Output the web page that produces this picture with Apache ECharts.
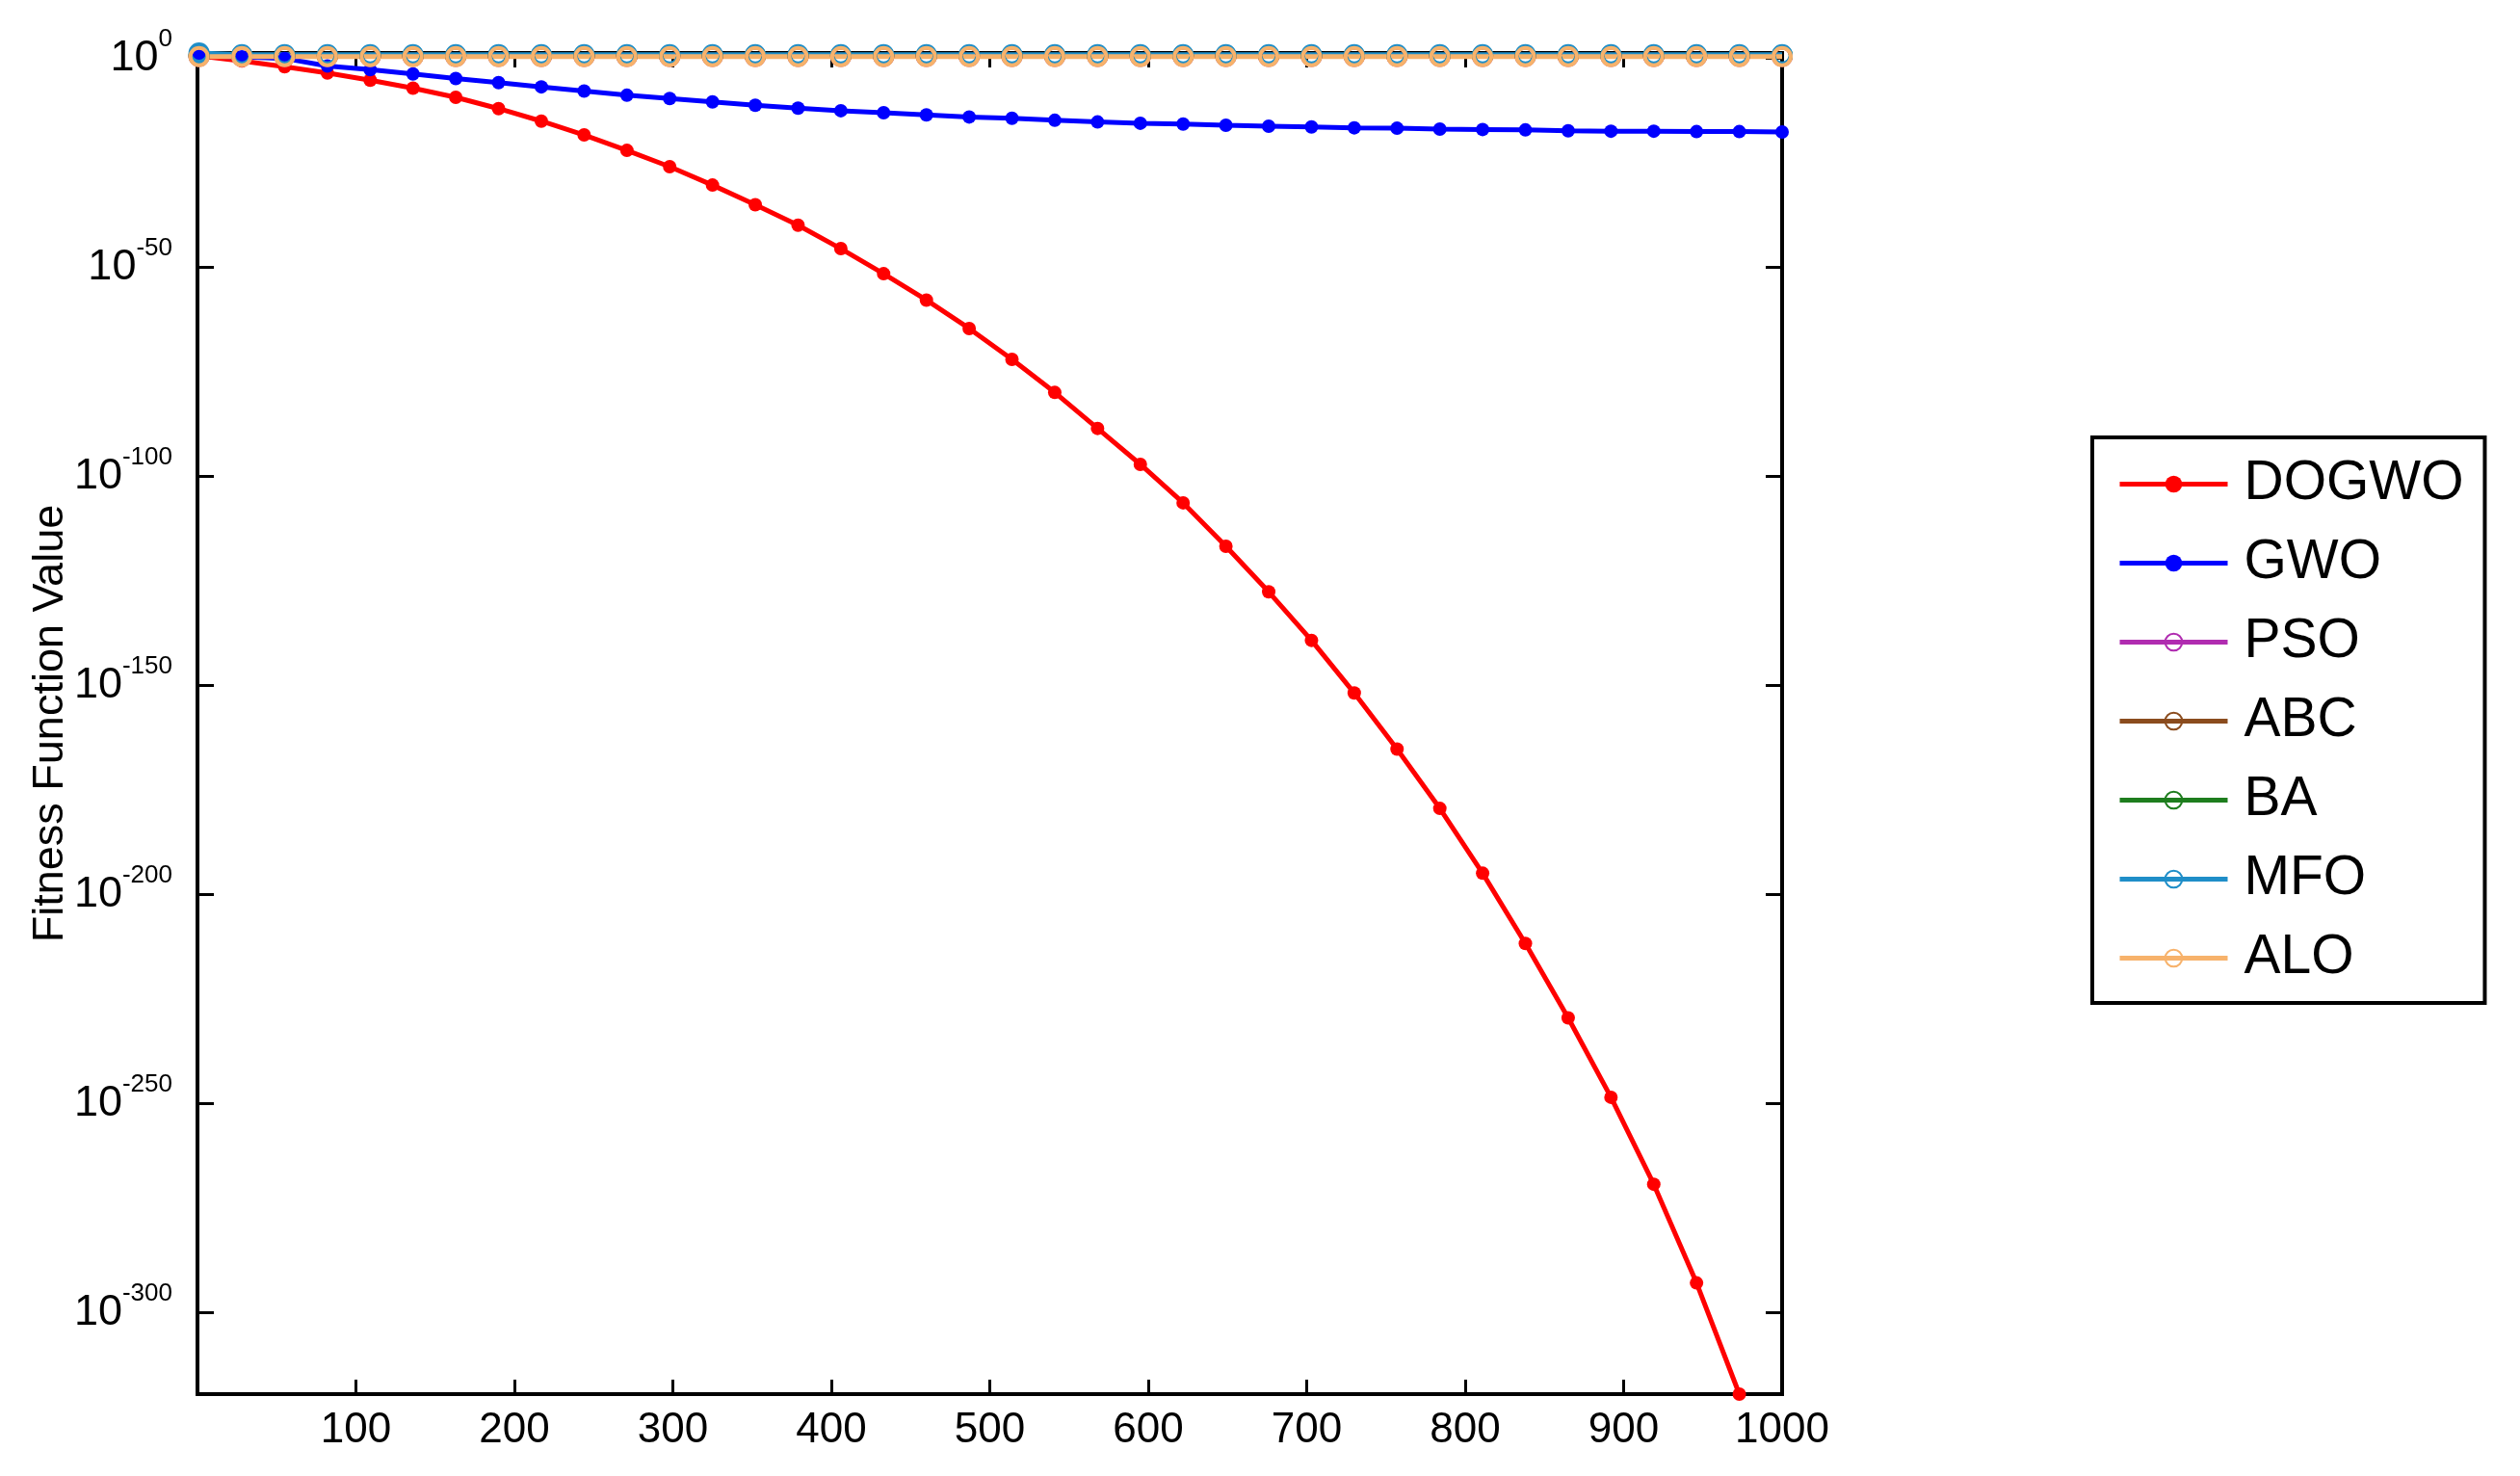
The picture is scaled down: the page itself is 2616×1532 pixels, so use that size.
<!DOCTYPE html>
<html>
<head>
<meta charset="utf-8">
<script src="https://cdn.jsdelivr.net/npm/echarts@6/dist/echarts.min.js"></script>
<style>
  html, body { margin: 0; padding: 0; background: #fff; }
  #main { width: 2616px; height: 1532px; }
</style>
</head>
<body>
<div id="main"></div>
<script>
// iteration of every plotted marker (one every 27 iterations)
const iterations = [1, 28, 55, 82, 109, 136, 163, 190, 217, 244, 271, 298, 325, 352, 379, 406, 433, 460, 487,
  514, 541, 568, 595, 622, 649, 676, 703, 730, 757, 784, 811, 838, 865, 892, 919, 946, 973, 1000]

// fitness values stored as exponents (value = 10^exp)
const dogwoExp = [0.6, -0.6, -2.0, -3.5, -5.2, -7.1, -9.3, -12.0, -15.0, -18.3, -22.0, -25.9, -30.3, -35.0, -39.9,
  -45.5, -51.5, -57.8, -64.6, -72.0, -79.9, -88.5, -97.1, -106.3, -116.7, -127.6, -139.2, -151.8, -165.2, -179.4,
  -194.9, -211.7, -229.5, -248.5, -269.3, -292.9, -319.5]
const gwoExp = [0.6, 0.4, 0.0, -1.8, -2.7, -3.7, -4.8, -5.8, -6.8, -7.8, -8.8, -9.6, -10.4, -11.2, -11.9, -12.5,
  -13.0, -13.5, -14.0, -14.3, -14.8, -15.2, -15.5, -15.7, -16.0, -16.2, -16.4, -16.6, -16.7, -16.9, -17.0, -17.1,
  -17.3, -17.4, -17.4, -17.5, -17.5, -17.6]
const psoExp = [0.5, 0.5, 0.5, 0.5, 0.5, 0.5, 0.5, 0.5, 0.5, 0.5, 0.5, 0.5, 0.5, 0.5, 0.5, 0.5, 0.5, 0.5, 0.5,
  0.5, 0.5, 0.5, 0.5, 0.5, 0.5, 0.5, 0.5, 0.5, 0.5, 0.5, 0.5, 0.5, 0.5, 0.5, 0.5, 0.5, 0.5, 0.5]
const abcExp = [0.6, 0.6, 0.6, 0.6, 0.6, 0.6, 0.6, 0.6, 0.6, 0.6, 0.6, 0.6, 0.6, 0.6, 0.6, 0.6, 0.6, 0.6, 0.6,
  0.6, 0.6, 0.6, 0.6, 0.6, 0.6, 0.6, 0.6, 0.6, 0.6, 0.6, 0.6, 0.6, 0.6, 0.6, 0.6, 0.6, 0.6, 0.6]
const baExp = [0.7, 0.7, 0.7, 0.7, 0.7, 0.7, 0.7, 0.7, 0.7, 0.7, 0.7, 0.7, 0.7, 0.7, 0.7, 0.7, 0.7, 0.7, 0.7,
  0.7, 0.7, 0.7, 0.7, 0.7, 0.7, 0.7, 0.7, 0.7, 0.7, 0.7, 0.7, 0.7, 0.7, 0.7, 0.7, 0.7, 0.7, 0.7]
const mfoExp = [1.3, 0.9, 0.9, 0.9, 0.9, 0.9, 0.9, 0.9, 0.9, 0.9, 0.9, 0.9, 0.9, 0.9, 0.9, 0.9, 0.9, 0.9, 0.9,
  0.9, 0.9, 0.9, 0.9, 0.9, 0.9, 0.9, 0.9, 0.9, 0.9, 0.9, 0.9, 0.9, 0.9, 0.9, 0.9, 0.9, 0.9, 0.9]
const aloExp = [0.45, 0.45, 0.45, 0.45, 0.45, 0.45, 0.45, 0.45, 0.45, 0.45, 0.45, 0.45, 0.45, 0.45, 0.45, 0.45,
  0.45, 0.45, 0.45, 0.45, 0.45, 0.45, 0.45, 0.45, 0.45, 0.45, 0.45, 0.45, 0.45, 0.45, 0.45, 0.45, 0.45, 0.45,
  0.45, 0.45, 0.45, 0.45]

const seriesNames = ['DOGWO', 'GWO', 'PSO', 'ABC', 'BA', 'MFO', 'ALO']
const xTicks = [100, 200, 300, 400, 500, 600, 700, 800, 900, 1000]
const yTickExps = [0, -50, -100, -150, -200, -250, -300]

const font = 'Liberation Sans'
const myChart = echarts.init(document.getElementById('main'))

function pairs (vals) {
  return vals.map(function (v, i) { return [iterations[i], v] })
}

function filledLine (name, vals, color) {
  return {
    name: name,
    type: 'line',
    data: pairs(vals),
    clip: false,
    symbol: 'circle',
    symbolSize: 14,
    lineStyle: { color: color, width: 5 },
    itemStyle: { color: color },
    emphasis: { disabled: true }
  }
}

function ringLine (name, vals, color) {
  return {
    name: name,
    type: 'line',
    data: pairs(vals),
    clip: false,
    symbol: 'circle',
    symbolSize: 18,
    lineStyle: { color: color, width: 5 },
    itemStyle: { color: 'rgba(255,255,255,0)', borderColor: color, borderWidth: 4 },
    emphasis: { disabled: true }
  }
}

const yMin = -319.5
const yMax = 1.3
const tickStyle = { color: '#000', width: 3 }

const option = {
  backgroundColor: '#fff',
  animation: false,
  grid: {
    left: 205,
    top: 55,
    width: 1645,
    height: 1392,
    containLabel: false,
    outerBoundsMode: 'none',
    show: true,
    borderColor: '#000',
    borderWidth: 4,
    backgroundColor: '#fff'
  },
  xAxis: [
    {
      type: 'value',
      position: 'bottom',
      min: 0,
      max: 1000,
      interval: 100,
      axisLine: { show: false, onZero: false },
      splitLine: { show: false },
      axisTick: { inside: true, length: 15, customValues: xTicks, lineStyle: tickStyle },
      axisLabel: {
        customValues: xTicks,
        margin: 16,
        fontFamily: font,
        fontSize: 44,
        color: '#000',
        formatter: function (v) { return String(v) }
      }
    },
    {
      type: 'value',
      position: 'top',
      min: 0,
      max: 1000,
      interval: 100,
      axisLine: { show: false, onZero: false },
      splitLine: { show: false },
      axisTick: { inside: true, length: 15, customValues: xTicks, lineStyle: tickStyle },
      axisLabel: { show: false }
    }
  ],
  yAxis: [
    {
      type: 'value',
      position: 'left',
      min: yMin,
      max: yMax,
      name: 'Fitness Function Value',
      nameLocation: 'middle',
      nameGap: 130,
      nameMoveOverlap: false,
      nameTextStyle: { fontFamily: font, fontSize: 45, color: '#000' },
      axisLine: { show: false, onZero: false },
      splitLine: { show: false },
      axisTick: { inside: true, length: 17, customValues: yTickExps, lineStyle: tickStyle },
      axisLabel: {
        customValues: yTickExps,
        margin: 26,
        color: '#000',
        formatter: function (v) {
          return '{b|10}{s|' + Math.round(v) + '}'
        },
        rich: {
          b: { fontFamily: font, fontSize: 45, color: '#000' },
          s: { fontFamily: font, fontSize: 26, lineHeight: 26, color: '#000', padding: [0, 0, 40, 0] }
        }
      }
    },
    {
      type: 'value',
      position: 'right',
      min: yMin,
      max: yMax,
      axisLine: { show: false, onZero: false },
      splitLine: { show: false },
      axisTick: { inside: true, length: 17, customValues: yTickExps, lineStyle: tickStyle },
      axisLabel: { show: false }
    }
  ],
  legend: {
    orient: 'vertical',
    left: 2172,
    top: 454,
    data: seriesNames,
    itemWidth: 112,
    itemHeight: 22,
    itemGap: 25,
    padding: [20, 22, 18, 26],
    borderColor: '#000',
    borderWidth: 4,
    backgroundColor: '#fff',
    selectedMode: false,
    lineStyle: { width: 5 },
    textStyle: { fontFamily: font, fontSize: 57, color: '#000', padding: [0, 0, 0, 12] }
  },
  series: [
    filledLine('DOGWO', dogwoExp, '#ff0000'),
    filledLine('GWO', gwoExp, '#0000ff'),
    ringLine('PSO', psoExp, '#b02cb0'),
    ringLine('ABC', abcExp, '#8b4c1e'),
    ringLine('BA', baExp, '#1e7d1e'),
    ringLine('MFO', mfoExp, '#1f8ec8'),
    ringLine('ALO', aloExp, '#f7b26b')
  ]
}

myChart.setOption(option)
</script>
</body>
</html>
